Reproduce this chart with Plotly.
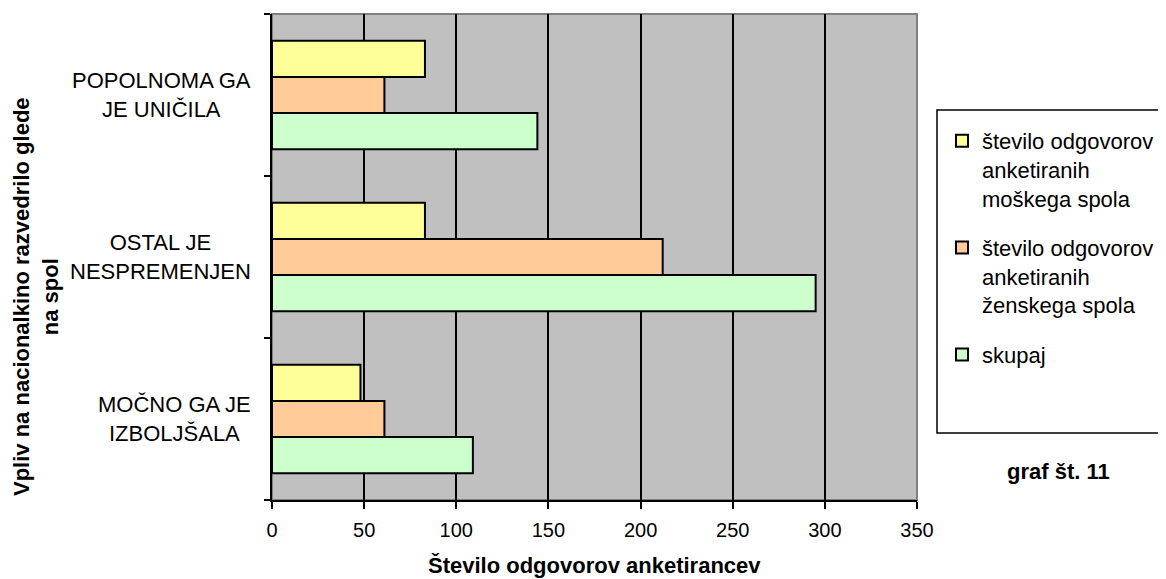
import plotly.graph_objects as go

# Data (categories listed bottom -> top as drawn)
categories = ["MOČNO GA JE<br>IZBOLJŠALA", "OSTAL JE<br>NESPREMENJEN", "POPOLNOMA GA<br>JE UNIČILA"]
moski = [48, 83, 83]
zenske = [61, 212, 61]
skupaj = [109, 295, 144]
series_names = [
    "število odgovorov<br>anketiranih<br>moškega spola",
    "število odgovorov<br>anketiranih<br>ženskega spola",
    "skupaj",
]
x_ticks = [0, 50, 100, 150, 200, 250, 300, 350]

W, H = 1166, 579
OFF = 8  # page body margin
L, T = 272 - OFF, 14 - OFF
R = W - (917 - OFF)
B = H - (500 - OFF)
pw, ph = W - L - R, H - T - B

def px_x(p):
    return (p - OFF - L) / pw

def px_y(p):
    return (H - B - (p - OFF)) / ph

FONT = "Liberation Sans, Arial, Helvetica, sans-serif"

fig = go.Figure()
# drawn bottom to top inside each group: skupaj, ženske, moški
for name, vals, col, rank in [
    (series_names[2], skupaj, "#CCFFCC", 3),
    (series_names[1], zenske, "#FFCC99", 2),
    (series_names[0], moski, "#FFFF99", 1),
]:
    fig.add_trace(go.Bar(
        y=categories, x=vals, name=name, orientation="h",
        marker=dict(color=col, line=dict(color="black", width=2)),
        legendgroup=str(rank), legendrank=rank,
    ))

fig.update_layout(
    width=W, height=H,
    margin=dict(l=L, r=R, t=T, b=B, pad=0),
    paper_bgcolor="white", plot_bgcolor="#C0C0C0",
    barmode="group", bargap=0.33, bargroupgap=0,
    font=dict(family=FONT, size=22, color="black"),
    showlegend=True,
    legend=dict(
        x=px_x(942), y=px_y(120), xanchor="left", yanchor="top",
        traceorder="grouped", tracegroupgap=18,
        valign="top", bgcolor="rgba(0,0,0,0)", borderwidth=0,
        font=dict(family=FONT, size=22),
    ),
    xaxis=dict(
        range=[0, 350], tickvals=x_ticks, ticktext=[str(v) for v in x_ticks],
        showgrid=True, gridcolor="black", gridwidth=2,
        showline=True, linecolor="black", linewidth=2,
        ticks="outside", ticklen=7, tickwidth=2, tickcolor="black",
        tickfont=dict(size=20), zeroline=False, ticklabelstandoff=4,
    ),
    yaxis=dict(
        categoryorder="array", categoryarray=categories,
        showticklabels=False, tickson="boundaries",
        ticks="outside", ticklen=6, tickwidth=2, tickcolor="black",
        showline=True, linecolor="black", linewidth=2,
        showgrid=False, zeroline=False,
    ),
)

# plot area border (gray) on top/right
fig.add_shape(type="rect", xref="paper", yref="paper", x0=0, x1=1, y0=0, y1=1,
              line=dict(color="#808080", width=2), layer="below")

# category labels (right-aligned block, centered lines)
for c in categories:
    fig.add_annotation(x=0, y=c, xref="paper", yref="y", text=c, showarrow=False,
                       xanchor="right", yanchor="middle", align="center", xshift=-19,
                       font=dict(size=22))

# x axis title
fig.add_annotation(x=0.5, y=px_y(565), xref="paper", yref="paper",
                   text="<b>Število odgovorov anketirancev</b>", showarrow=False,
                   xanchor="center", yanchor="middle", font=dict(size=22))

# y axis title
fig.add_annotation(x=px_x(36), y=px_y(297), xref="paper", yref="paper",
                   text="<b>Vpliv na nacionalkino razvedrilo glede<br>na spol</b>",
                   textangle=-90, showarrow=False, xanchor="center", yanchor="middle",
                   align="center", font=dict(size=22))

# legend box (extends beyond right edge)
fig.add_shape(type="rect", xref="paper", yref="paper",
              x0=px_x(937), x1=px_x(1180), y0=px_y(433), y1=px_y(110),
              line=dict(color="black", width=1.5), fillcolor="white", layer="below")

# chart number
fig.add_annotation(x=px_x(1058), y=px_y(471), xref="paper", yref="paper",
                   text="<b>graf št. 11</b>", showarrow=False,
                   xanchor="center", yanchor="middle", font=dict(size=22))

fig.write_html("out.html")
